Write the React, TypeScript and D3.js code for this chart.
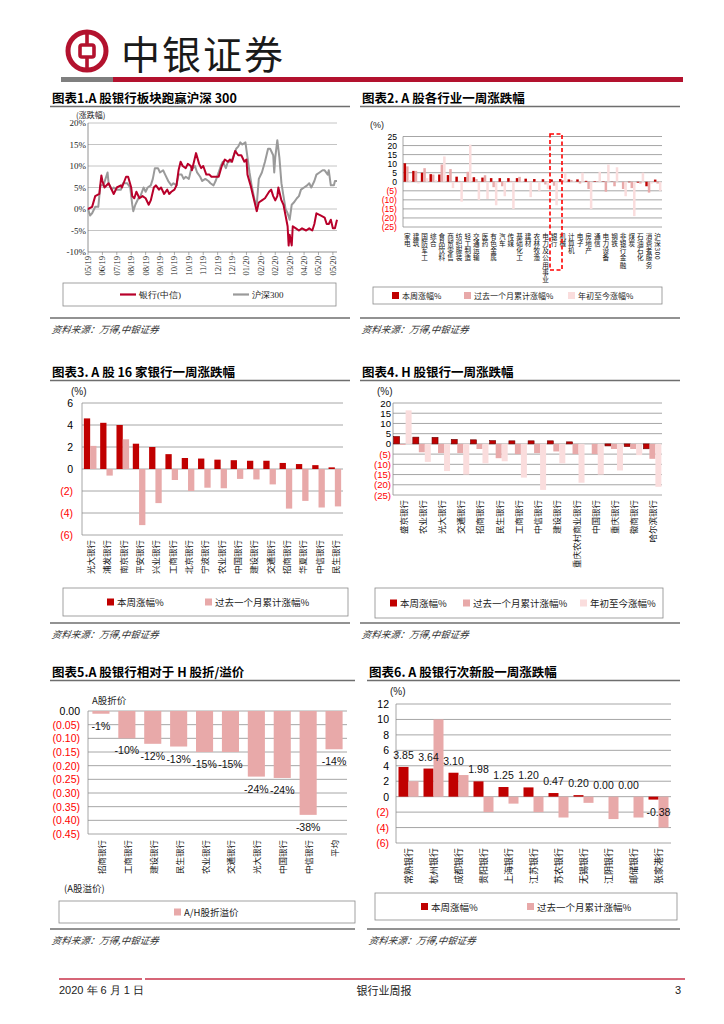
import React from 'react';
import * as d3 from 'd3';

const SANS = "'Liberation Sans', Arial, sans-serif";
const CJK = "'Noto Sans CJK SC', 'Noto Sans', sans-serif";
const SERIF = "'Liberation Serif', 'Times New Roman', serif";
const DARK = '#C00000';
const MED = '#E8A9A9';
const LIGHT = '#FADDDD';
const GRID = '#8F8F8F';
const NEG = '#FF0000';
const BRAND = '#B3122E';

// ---------- Chart 1: bank sector vs CSI300 (cumulative %) ----------
const bankSeries: [number, number][] = [
  [0, 0], [4, 0.5], [7, 3], [11, 3.5], [13, 7.8], [14, 6.5], [16, 5], [20, 6], [22, 5], [25, 3.5],
  [28, 5], [32, 5.5], [33, 5], [37, 7.5], [39, 7.5], [42, 5], [43, 3], [45, 2.5], [47, 4], [50, 2.5],
  [53, 3], [56, 2.5], [59, 1], [61, 2], [64, 5], [66, 5.5], [69, 4.5], [71, 5], [74, 3.5], [77, 4.5],
  [79, 3.5], [81, 4], [84, 4.5], [86, 5.5], [88, 9], [90, 11], [92, 10], [95, 9.5], [97, 10.5], [100, 10],
  [101, 9], [103, 11], [105, 13], [108, 10.5], [110, 9.5], [112, 10], [115, 8], [118, 8], [120, 7.5], [123, 7.5],
  [127, 7.5], [130, 10], [133, 11.5], [136, 11], [138, 11.5], [140, 11], [143, 13.5], [146, 12.5], [149, 12.5], [152, 11],
  [154, 11.5], [155, 8], [158, 5.5], [160, 3.5], [162, 1.5], [164, -0.5], [166, 1.5], [169, 2], [172, 2.5], [176, 4],
  [178, 4.5], [180, 3], [182, 2], [184, 3], [185, 5], [188, 2], [190, 1], [192, -1.5], [194, -4], [195, -8.5],
  [196, -6], [198, -8.5], [199, -4], [202, -4.5], [205, -5], [208, -4.5], [212, -5], [215, -4.5], [218, -5], [220, -3.5],
  [222, -1], [226, -1.5], [230, -2], [232, -3.5], [234, -3.5], [236, -2.5], [238, -4.5], [240, -4.5], [242, -2.5],
];
const hs300Series: [number, number][] = [
  [0, 0], [2, -1.5], [4, -1], [6, 0], [7, 0.5], [10, 0.5], [12, 5.5], [15, 5.5], [19, 8.5], [20, 6],
  [23, 4.5], [25, 5], [28, 4.5], [32, 4.5], [34, 6], [38, 6], [41, 5], [43, 1], [44, -0.5], [46, 1],
  [49, 2.5], [51, 3], [54, 5], [56, 4], [58, 5], [61, 5.5], [63, 7], [65, 9.5], [68, 9.5], [70, 8.5],
  [73, 9], [75, 8], [78, 6.5], [81, 5.5], [83, 6], [86, 5.5], [88, 8], [91, 8], [93, 7], [95, 7.5],
  [98, 7], [100, 9], [104, 10], [106, 8.5], [109, 7.5], [111, 6.5], [114, 7], [117, 6.5], [119, 6], [122, 5.5],
  [124, 6.5], [127, 8.5], [129, 10], [131, 11], [134, 9.5], [136, 11], [139, 11], [141, 12], [144, 14], [146, 14.5],
  [148, 15.5], [150, 15], [153, 15.5], [155, 12], [157, 8.5], [159, 5.5], [162, 2], [164, 1], [166, 7], [169, 8.5],
  [172, 11], [175, 14], [177, 14], [180, 12.5], [181, 8.5], [182, 12], [184, 16], [186, 12], [188, 6], [190, 3],
  [192, 0], [194, -1], [196, -2.5], [198, 1], [200, 1.5], [203, 2.5], [205, 3], [207, 4.5], [210, 5], [213, 5.5],
  [215, 6], [217, 5], [220, 6.5], [222, 8], [225, 8.5], [228, 9], [230, 9], [233, 8], [234, 9], [236, 5.5],
  [239, 5.5], [240, 6.5], [242, 6.5],
];
const dateTickDays = [0, 14, 28, 42, 56, 70, 84, 98, 112, 126, 140, 154, 168, 182, 196, 210, 224, 238];
const dateTickLabels = ['05/19', '06/19', '07/19', '08/19', '08/19', '09/19', '10/19', '10/19', '11/19', '12/19', '12/19', '01/20', '02/20', '02/20', '03/20', '04/20', '05/20', '05/20'];
const pctTicks = [20, 15, 10, 5, 0, -5, -10];

// ---------- Chart 2: industries ----------
const industries = ['家电', '建筑', '国防军工', '综合', '食品饮料', '商贸零售', '纺织服装', '轻工制造', '交通运输', '医药',
  '有色金属', '汽车', '传媒', '基础化工', '建材', '农林牧渔', '电力及公用事业', '银行', '机械', '计算机',
  '电子', '房地产', '通信', '电力设备', '钢铁', '非银行金融', '煤炭', '石油石化', '消费者服务', '沪深300'];
const indWeek = [10.2, 6.0, 5.0, 4.2, 4.0, 3.7, 2.8, 2.6, 2.5, 2.3, 2.0, 2.0, 2.0, 2.0, 1.7, 1.5, 1.4, 1.3, 1.5, 1.3, 1.3, 0.5, 0.3, 0.2, 0.1, 0.0, -0.3, -0.5, -2.5, 1.2];
const indMonth = [8.5, 6.0, 7.5, 4.0, 9.5, 7.0, 0.5, 5.5, 1.5, 3.6, -3.0, -2.5, 0.5, 2.7, 0.3, 0.3, -1.5, -2.2, 0.8, 1.0, -1.0, -4.0, 0.3, -5.5, -2.5, -4.0, -3.5, -1.0, -6.0, -1.0];
const indYTD = [1.0, -1.0, 2.0, 1.0, 14.0, -3.5, -11.0, 20.5, -10.0, -9.5, -13.0, -8.0, -15.0, 0.5, -8.5, -5.0, -4.0, -13.0, 5.0, 0.5, 5.0, -15.0, 5.5, 9.5, 8.0, -8.0, -19.0, 5.0, -1.0, -5.0];

// ---------- Chart 3: 16 A-share banks ----------
const aBanks = ['光大银行', '浦发银行', '南京银行', '平安银行', '兴业银行', '工商银行', '北京银行', '宁波银行', '农业银行', '中国银行', '建设银行', '交通银行', '招商银行', '华夏银行', '中信银行', '民生银行'];
const aWeek = [4.6, 4.2, 4.0, 2.3, 2.0, 1.35, 1.0, 0.95, 0.85, 0.8, 0.75, 0.75, 0.55, 0.45, 0.35, 0.15];
const aMonth = [2.1, -0.6, 2.7, -5.1, -3.1, -1.0, -2.0, -1.7, -1.75, -0.9, -0.95, -1.4, -3.6, -2.9, -3.5, -3.4];

// ---------- Chart 4: H-share banks ----------
const hBanks = ['盛京银行', '农业银行', '光大银行', '交通银行', '招商银行', '民生银行', '工商银行', '中信银行', '建设银行', '重庆农村商业银行', '中国银行', '重庆银行', '徽商银行', '哈尔滨银行'];
const hWeek = [3.6, 3.3, 3.2, 2.2, 2.0, 1.6, 1.5, 1.5, 1.5, 1.0, 0.0, -1.0, -1.3, -2.4];
const hMonth = [-0.5, -4.1, -4.5, -4.5, -2.5, -7.0, -5.0, -4.5, -3.7, -5.0, -5.0, -2.5, -2.5, -7.3];
const hYTD = [16.4, -8.8, -13.3, -15.0, -9.5, -8.5, -16.5, -22.5, -9.5, -19.0, -15.0, -13.0, -5.5, -21.0];

// ---------- Chart 5: A/H premium ----------
const ahBanks = ['招商银行', '工商银行', '建设银行', '民生银行', '农业银行', '交通银行', '光大银行', '中国银行', '中信银行', '平均'];
const ahPremium = [-0.01, -0.10, -0.12, -0.13, -0.15, -0.15, -0.24, -0.245, -0.38, -0.14];

// ---------- Chart 6: newly listed banks ----------
const newBanks = ['常熟银行', '杭州银行', '成都银行', '贵阳银行', '上海银行', '江苏银行', '苏农银行', '无锡银行', '江阴银行', '邮储银行', '张家港行'];
const newWeek = [3.85, 3.64, 3.10, 1.98, 1.25, 1.20, 0.47, 0.20, 0.00, 0.00, -0.38];
const newMonth = [2.0, 10.0, 2.8, -2.0, -0.9, -2.0, -2.7, -0.8, -2.9, -2.7, -4.0];

const paren = (dec: number) => (v: number) => (v < 0 ? `(${Math.abs(v).toFixed(dec)})` : v.toFixed(dec));

type BarProps = {
  x0: number; x1: number; yTop: number; yBot: number;
  domain: [number, number]; step: number;
  cats: string[]; series: number[][]; colors: string[];
  barW: number; tickRight: number; tickSize: number; fmt: (v: number) => string;
  labelTop: number; labelSize: number; labelMode: 'rot' | 'vert';
  darkStroke?: boolean;
};

function GroupedBars(p: BarProps) {
  const y = d3.scaleLinear().domain(p.domain).range([p.yBot, p.yTop]);
  const x = d3.scaleBand().domain(p.cats).range([p.x0, p.x1]);
  const n = p.series.length;
  const inner = d3.scaleBand<number>().domain(d3.range(n)).range([0, p.barW * n]);
  const off = (x.bandwidth() - p.barW * n) / 2;
  const ticks = d3.range(p.domain[0], p.domain[1] + p.step / 2, p.step);
  return (
    <g>
      {ticks.map((t) => (
        <line key={'g' + t} x1={p.x0} x2={p.x1} y1={y(t)} y2={y(t)} stroke={GRID} strokeWidth={0.8} />
      ))}
      <line x1={p.x0} x2={p.x0} y1={p.yTop} y2={p.yBot} stroke={GRID} strokeWidth={0.8} />
      {ticks.map((t) => (
        <text key={'t' + t} x={p.tickRight} y={y(t)} textAnchor="end" dominantBaseline="central"
          fontFamily={SANS} fontSize={p.tickSize} fill={t < 0 ? NEG : '#000'}>{p.fmt(t)}</text>
      ))}
      {p.series.map((s, si) => (
        <g key={'s' + si}>
          {s.map((v, i) => (
            <rect key={i} x={(x(p.cats[i]) as number) + off + (inner(si) as number)} width={inner.bandwidth()}
              y={Math.min(y(v), y(0))} height={Math.abs(y(v) - y(0))} fill={p.colors[si]}
              stroke={p.darkStroke && si === 0 ? '#6b0000' : 'none'} strokeWidth={0.6} />
          ))}
        </g>
      ))}
      {p.cats.map((c) => {
        const cx = (x(c) as number) + x.bandwidth() / 2;
        if (p.labelMode === 'rot') {
          return (
            <text key={c} transform={`translate(${cx},${p.labelTop}) rotate(-90)`} textAnchor="end" dominantBaseline="central"
              fontFamily={CJK} fontSize={p.labelSize} fill="#111">{c}</text>
          );
        }
        return (
          <text key={c} x={cx} y={p.labelTop} style={{ writingMode: 'vertical-rl' } as any} textAnchor="start"
            fontFamily={CJK} fontSize={p.labelSize} letterSpacing={0.6} fill="#111">{c}</text>
        );
      })}
    </g>
  );
}

type LegendItem = { x: number; color: string; label: string; kind?: 'rect' | 'line' };
function Legend({ x, y, w, h, items, font = CJK, size = 9.5 }: { x: number; y: number; w: number; h: number; items: LegendItem[]; font?: string; size?: number }) {
  const cy = y + h / 2;
  return (
    <g>
      <rect x={x} y={y} width={w} height={h} fill="#fff" stroke="#8a8a8a" strokeWidth={0.8} />
      {items.map((it) => (
        <g key={it.label}>
          {it.kind === 'line'
            ? <line x1={it.x} x2={it.x + 16} y1={cy} y2={cy} stroke={it.color} strokeWidth={2.2} />
            : <rect x={it.x} y={cy - 3.5} width={7} height={7} fill={it.color} />}
          <text x={it.x + (it.kind === 'line' ? 19 : 10)} y={cy} dominantBaseline="central" fontFamily={font}
            fontSize={size} fill="#222">{it.label}</text>
        </g>
      ))}
    </g>
  );
}

function Frame({ x0, x1, title, titleY, ruleY, bottomY }: { x0: number; x1: number; title: string; titleY: number; ruleY: number; bottomY: number }) {
  return (
    <g>
      <text x={x0 + 2} y={titleY} dominantBaseline="central" fontFamily={CJK} fontWeight={700} fontSize={12.5} fill="#000">{title}</text>
      <line x1={x0} x2={x1} y1={ruleY} y2={ruleY} stroke="#6e6e6e" strokeWidth={1.4} />
      <line x1={x0} x2={x1} y1={bottomY} y2={bottomY} stroke="#6e6e6e" strokeWidth={1.4} />
      <text x={x0 + 2} y={bottomY + 11} dominantBaseline="central" fontFamily={CJK} fontStyle="italic" fontSize={9.5}
        fill="#333" transform={`skewX(-10)`} style={{ transformBox: 'fill-box', transformOrigin: 'center' } as any}>资料来源：万得,中银证券</text>
    </g>
  );
}

function Chart1() {
  const x = d3.scaleLinear().domain([0, 242]).range([88, 337]);
  const y = d3.scaleLinear().domain([-10, 20]).range([252, 123]);
  const line = d3.line<[number, number]>().x((d) => x(d[0])).y((d) => y(d[1]));
  return (
    <g>
      {pctTicks.map((t) => (
        <line key={t} x1={88} x2={337} y1={y(t)} y2={y(t)} stroke={t === -10 ? '#777' : '#C4C4C4'} strokeWidth={t === -10 ? 0.8 : 1} />
      ))}
      <line x1={88} x2={88} y1={123} y2={252} stroke="#777" strokeWidth={0.8} />
      {dateTickDays.map((d, i) => (
        <line key={'tk' + i} x1={x(d)} x2={x(d)} y1={252} y2={255} stroke="#777" strokeWidth={0.6} />
      ))}
      {pctTicks.map((t) => (
        <text key={'l' + t} x={86} y={y(t)} textAnchor="end" dominantBaseline="central" fontFamily={SERIF} fontSize={9} fill="#222">{t}%</text>
      ))}
      <text x={76} y={118} fontFamily={CJK} fontSize={8} fill="#222">(涨跌幅)</text>
      <path d={line(hs300Series) || ''} fill="none" stroke="#9A9A9A" strokeWidth={2} strokeLinejoin="round" />
      <path d={line(bankSeries) || ''} fill="none" stroke="#B8002A" strokeWidth={2} strokeLinejoin="round" />
      {dateTickDays.map((d, i) => (
        <text key={'dl' + i} transform={`translate(${x(d)},256) rotate(-90)`} textAnchor="end" dominantBaseline="central"
          fontFamily={SERIF} fontSize={8.5} fill="#222">{dateTickLabels[i]}</text>
      ))}
      <Legend x={63} y={283} w={273} h={23} font={SERIF} size={9}
        items={[{ x: 120, color: '#B8002A', label: '银行(中信)', kind: 'line' }, { x: 233, color: '#9A9A9A', label: '沪深300', kind: 'line' }]} />
    </g>
  );
}

function Chart2() {
  return (
    <g>
      <text x={370} y={128} fontFamily={SANS} fontSize={9} fill="#222">(%)</text>
      <GroupedBars x0={403} x1={662} yTop={136.5} yBot={227} domain={[-25, 25]} step={5}
        cats={industries} series={[indWeek, indMonth, indYTD]} colors={[DARK, MED, LIGHT]} barW={2.5}
        tickRight={397} tickSize={8.6} fmt={paren(0)} labelTop={233} labelSize={6.6} labelMode="vert" />
      <rect x={550} y={134} width={12} height={136} fill="none" stroke="#FF0000" strokeWidth={1.6} strokeDasharray="4,2.5" />
      <Legend x={373} y={287} w={289} h={17} size={8}
        items={[{ x: 392, color: DARK, label: '本周涨幅%' }, { x: 464, color: MED, label: '过去一个月累计涨幅%' }, { x: 568, color: LIGHT, label: '年初至今涨幅%' }]} />
    </g>
  );
}

function Chart3() {
  return (
    <g>
      <text x={71} y={395} fontFamily={SANS} fontSize={10} fill="#222">(%)</text>
      <GroupedBars x0={82} x1={343} yTop={403} yBot={535} domain={[-6, 6]} step={2}
        cats={aBanks} series={[aWeek, aMonth]} colors={[DARK, MED]} barW={6.3}
        tickRight={73} tickSize={10.5} fmt={paren(0)} labelTop={540} labelSize={8.5} labelMode="rot" />
      <Legend x={63} y={588} w={285} h={28} size={9.5}
        items={[{ x: 107, color: DARK, label: '本周涨幅%' }, { x: 205, color: MED, label: '过去一个月累计涨幅%' }]} />
    </g>
  );
}

function Chart4() {
  return (
    <g>
      <text x={377} y={395} fontFamily={SANS} fontSize={10} fill="#222">(%)</text>
      <GroupedBars x0={393} x1={662} yTop={403} yBot={495} domain={[-25, 20]} step={5}
        cats={hBanks} series={[hWeek, hMonth, hYTD]} colors={[DARK, MED, LIGHT]} barW={6}
        tickRight={391} tickSize={9.6} fmt={paren(0)} labelTop={500} labelSize={8.5} labelMode="rot" darkStroke />
      <Legend x={375} y={588} w={288} h={30} size={9.5}
        items={[{ x: 390, color: DARK, label: '本周涨幅%' }, { x: 463, color: MED, label: '过去一个月累计涨幅%' }, { x: 580, color: LIGHT, label: '年初至今涨幅%' }]} />
    </g>
  );
}

function Chart5() {
  const x0 = 88, x1 = 347, yTop = 711, yBot = 834;
  const y = d3.scaleLinear().domain([-0.45, 0]).range([yBot, yTop]);
  const x = d3.scaleBand().domain(ahBanks).range([x0, x1]);
  const ticks = d3.range(0, -0.4501, -0.05);
  const bw = x.bandwidth() * 0.66;
  return (
    <g>
      <text x={92} y={700} dominantBaseline="central" fontFamily={CJK} fontSize={9.5} fill="#222">A股折价</text>
      {ticks.map((t, i) => (
        <line key={i} x1={x0} x2={x1} y1={y(t)} y2={y(t)} stroke={GRID} strokeWidth={0.8} />
      ))}
      <line x1={x0} x2={x0} y1={yTop} y2={yBot} stroke={GRID} strokeWidth={0.8} />
      {ticks.map((t, i) => (
        <text key={'t' + i} x={80} y={y(t)} textAnchor="end" dominantBaseline="central" fontFamily={SANS} fontSize={10.5}
          fill={i === 0 ? '#000' : NEG}>{paren(2)(Math.abs(t) < 1e-9 ? 0 : t)}</text>
      ))}
      {ahPremium.map((v, i) => {
        const cx = (x(ahBanks[i]) as number) + x.bandwidth() / 2;
        return (
          <g key={i}>
            <rect x={cx - bw / 2} width={bw} y={y(0)} height={y(v) - y(0)} fill={MED} />
            <text x={cx} y={y(v) + 12} textAnchor="middle" dominantBaseline="central" fontFamily={SANS} fontSize={10.5} fill="#111">
              {Math.round(v * 100)}%</text>
          </g>
        );
      })}
      {ahBanks.map((c) => (
        <text key={c} transform={`translate(${(x(c) as number) + x.bandwidth() / 2},840) rotate(-90)`} textAnchor="end"
          dominantBaseline="central" fontFamily={CJK} fontSize={8.5} fill="#111">{c}</text>
      ))}
      <text x={64} y={888} dominantBaseline="central" fontFamily={CJK} fontSize={9.5} fill="#222">(A股溢价)</text>
      <Legend x={59} y={901} w={296} h={22} size={9.5} items={[{ x: 174, color: MED, label: 'A/H股折溢价' }]} />
    </g>
  );
}

function Chart6() {
  const x0 = 396, x1 = 671, yTop = 704, yBot = 843;
  const y = d3.scaleLinear().domain([-6, 12]).range([yBot, yTop]);
  const x = d3.scaleBand().domain(newBanks).range([x0, x1]);
  const off = (x.bandwidth() - 20) / 2;
  return (
    <g>
      <text x={390} y={695} fontFamily={SANS} fontSize={10} fill="#222">(%)</text>
      <GroupedBars x0={x0} x1={x1} yTop={yTop} yBot={yBot} domain={[-6, 12]} step={2}
        cats={newBanks} series={[newWeek, newMonth]} colors={[DARK, MED]} barW={10}
        tickRight={389} tickSize={10.5} fmt={paren(0)} labelTop={848} labelSize={9} labelMode="rot" />
      {newWeek.map((v, i) => (
        <text key={i} x={(x(newBanks[i]) as number) + off + 5 + (v < 0 ? 5 : 0)} y={v < 0 ? y(v) + 12 : y(v) - 12}
          textAnchor="middle" dominantBaseline="central" fontFamily={SANS} fontSize={10.5} fill="#111">{v.toFixed(2)}</text>
      ))}
      <Legend x={375} y={893} w={302} h={27} size={9.5}
        items={[{ x: 421, color: DARK, label: '本周涨幅%' }, { x: 527, color: MED, label: '过去一个月累计涨幅%' }]} />
    </g>
  );
}

export default function App() {
  return (
    <svg width={724} height={1024} viewBox="0 0 724 1024" style={{ position: 'absolute', left: 0, top: 0, background: '#fff' }}>
      <rect x={0} y={0} width={724} height={1024} fill="#fff" />
      {/* header */}
      <circle cx={87} cy={51} r={19} fill="none" stroke={BRAND} strokeWidth={5} />
      <rect x={80} y={45} width={14} height={12} rx={2} fill="none" stroke={BRAND} strokeWidth={3.6} />
      <line x1={87} x2={87} y1={33} y2={45} stroke={BRAND} strokeWidth={3.6} />
      <line x1={87} x2={87} y1={57} y2={69} stroke={BRAND} strokeWidth={3.6} />
      <text x={121} y={52} dominantBaseline="central" fontFamily={CJK} fontSize={39} fill="#1a1a1a" letterSpacing={2}>中银证券</text>
      <rect x={61} y={77} width={52} height={5} fill="#7F7F7F" />
      <rect x={113} y={77} width={570} height={5} fill={BRAND} />

      <Frame x0={50} x1={350} title="图表1.A 股银行板块跑赢沪深 300" titleY={97} ruleY={106.5} bottomY={318} />
      <Frame x0={360} x1={680} title="图表2. A 股各行业一周涨跌幅" titleY={97} ruleY={106.5} bottomY={318} />
      <Frame x0={50} x1={350} title="图表3. A 股 16 家银行一周涨跌幅" titleY={371} ruleY={380.5} bottomY={623} />
      <Frame x0={360} x1={680} title="图表4. H 股银行一周涨跌幅" titleY={371} ruleY={380.5} bottomY={623} />
      <Frame x0={50} x1={355} title="图表5.A 股银行相对于 H 股折/溢价" titleY={671} ruleY={680.5} bottomY={929} />
      <Frame x0={367} x1={680} title="图表6. A 股银行次新股一周涨跌幅" titleY={671} ruleY={680.5} bottomY={929} />

      <Chart1 />
      <Chart2 />
      <Chart3 />
      <Chart4 />
      <Chart5 />
      <Chart6 />

      {/* footer */}
      <line x1={59} x2={142} y1={979} y2={979} stroke="#C8324A" strokeWidth={1.6} />
      <line x1={145} x2={685} y1={979} y2={979} stroke="#C8324A" strokeWidth={1.6} />
      <text x={59} y={990} dominantBaseline="central" fontFamily={"'Liberation Sans Narrow', " + SANS} fontSize={11} fill="#222">2020 年 6 月 1 日</text>
      <text x={384} y={990} textAnchor="middle" dominantBaseline="central" fontFamily={CJK} fontSize={11} fill="#222">银行业周报</text>
      <text x={681} y={990} textAnchor="end" dominantBaseline="central" fontFamily={SANS} fontSize={11} fill="#222">3</text>
    </svg>
  );
}
